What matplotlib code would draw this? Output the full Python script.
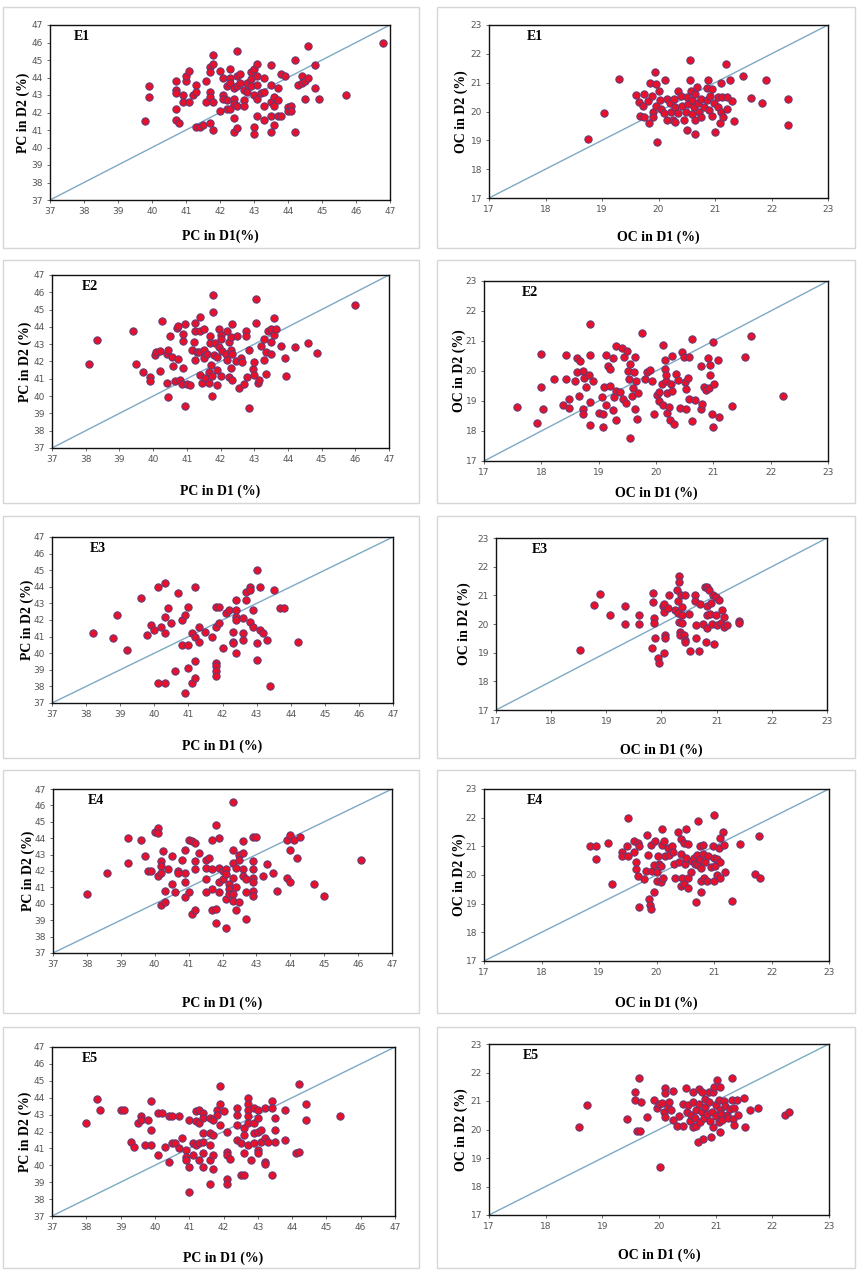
import matplotlib
matplotlib.use("Agg")
import matplotlib.pyplot as plt
from matplotlib.patches import Rectangle
import numpy as np

W, H = 862, 1278

# ---------------- data ----------------
E1_PC = [(39.8,41.5),(39.9,43.5),(39.9,42.9),(40.7,43.8),(40.7,43.3),(40.7,43.1),(40.7,42.2),(40.7,41.6),(40.8,41.4),(40.9,43.0),(40.9,42.6),(41.0,43.8),(41.0,44.1),(41.1,44.4),(41.1,42.6),(41.2,43.0),(41.3,43.6),(41.3,43.2),(41.3,41.2),(41.4,41.2),(41.5,41.3),(41.6,43.8),(41.6,42.6),(41.7,44.6),(41.7,44.3),(41.7,43.2),(41.7,42.9),(41.7,41.4),(41.8,45.3),(41.8,44.8),(41.8,42.6),(41.8,41.0),(42.0,44.4),(42.0,42.1),(42.1,44.0),(42.1,43.0),(42.1,42.8),(42.2,43.5),(42.2,42.7),(42.2,42.2),(42.3,44.5),(42.3,44.0),(42.3,43.7),(42.3,42.2),(42.4,43.4),(42.4,42.8),(42.4,42.5),(42.4,41.7),(42.4,40.9),(42.5,45.5),(42.5,44.1),(42.5,43.5),(42.5,42.4),(42.5,41.1),(42.6,44.2),(42.6,43.7),(42.7,43.3),(42.7,42.7),(42.7,42.4),(42.8,43.7),(42.8,43.2),(42.9,44.3),(42.9,43.9),(42.9,43.5),(43.0,44.5),(43.0,43.0),(43.0,41.2),(43.0,40.8),(43.1,44.8),(43.1,44.1),(43.1,43.6),(43.1,42.8),(43.1,41.8),(43.2,43.1),(43.3,44.0),(43.3,43.2),(43.3,42.4),(43.3,41.6),(43.5,44.7),(43.5,43.6),(43.5,42.6),(43.5,41.8),(43.5,40.9),(43.6,42.9),(43.6,42.4),(43.6,41.3),(43.7,43.4),(43.7,42.7),(43.7,41.8),(43.8,44.2),(43.8,41.8),(43.9,44.1),(44.0,42.3),(44.0,42.1),(44.1,42.4),(44.1,42.1),(44.2,45.0),(44.2,40.9),(44.3,43.6),(44.4,44.1),(44.4,43.7),(44.5,43.8),(44.5,42.8),(44.6,45.8),(44.6,44.0),(44.8,44.7),(44.8,43.4),(44.9,42.8),(45.7,43.0),(46.8,46.0)]

E1_OC = [(18.75,19.05),(19.03,19.95),(19.3,21.13),(19.6,20.57),(19.65,20.33),(19.68,19.83),(19.72,20.2),(19.75,20.6),(19.75,19.82),(19.82,20.35),(19.83,19.6),(19.85,20.98),(19.88,20.55),(19.9,20.0),(19.9,19.8),(19.93,21.38),(19.95,20.95),(19.95,20.2),(19.98,18.95),(20.0,20.7),(20.02,20.4),(20.05,20.1),(20.1,19.95),(20.12,21.1),(20.15,20.45),(20.15,19.7),(20.2,20.3),(20.22,20.0),(20.25,19.72),(20.28,20.45),(20.3,20.15),(20.3,19.65),(20.35,20.7),(20.35,19.95),(20.4,20.55),(20.42,20.2),(20.45,19.7),(20.48,20.0),(20.5,20.5),(20.5,19.35),(20.52,20.25),(20.55,21.8),(20.55,21.1),(20.57,20.7),(20.6,20.4),(20.6,19.9),(20.62,20.15),(20.65,20.6),(20.65,19.7),(20.65,19.22),(20.68,20.85),(20.7,20.3),(20.72,20.0),(20.75,20.45),(20.75,19.8),(20.8,20.15),(20.85,20.8),(20.85,20.4),(20.88,21.1),(20.9,20.05),(20.92,20.55),(20.95,20.78),(20.95,19.85),(20.98,20.3),(21.0,19.3),(21.05,20.5),(21.05,20.15),(21.08,19.6),(21.1,21.0),(21.1,20.0),(21.12,20.5),(21.15,19.8),(21.2,21.65),(21.22,20.5),(21.22,20.1),(21.27,21.1),(21.3,20.38),(21.33,19.68),(21.5,21.22),(21.63,20.48),(21.83,20.3),(21.9,21.1),(22.3,20.43),(22.3,19.52)]

E2_PC = [(38.1,41.85),(38.35,43.25),(39.4,43.75),(39.5,41.85),(39.7,41.4),(39.9,41.1),(39.9,40.85),(40.05,42.4),(40.1,42.55),(40.2,42.6),(40.2,41.45),(40.25,44.35),(40.4,42.45),(40.4,40.75),(40.45,42.65),(40.45,39.95),(40.5,43.45),(40.55,42.25),(40.6,41.75),(40.65,40.85),(40.7,43.95),(40.75,44.05),(40.75,42.15),(40.8,40.95),(40.85,40.7),(40.88,41.6),(40.9,43.2),(40.9,43.6),(40.95,44.15),(40.95,39.45),(41.0,40.7),(41.1,40.65),(41.15,42.65),(41.2,43.1),(41.25,44.25),(41.25,43.75),(41.25,42.1),(41.3,42.55),(41.35,42.55),(41.4,44.55),(41.4,43.75),(41.4,41.2),(41.45,40.75),(41.5,43.9),(41.5,42.65),(41.5,42.2),(41.55,41.05),(41.6,42.45),(41.65,41.4),(41.65,40.75),(41.7,43.45),(41.7,43.05),(41.72,41.8),(41.75,41.15),(41.75,40.0),(41.78,45.85),(41.78,44.85),(41.8,42.35),(41.85,43.05),(41.9,42.25),(41.9,41.5),(41.9,40.65),(41.95,43.9),(41.95,42.85),(42.0,43.55),(42.0,43.3),(42.0,41.15),(42.05,42.6),(42.15,42.45),(42.2,43.75),(42.2,42.1),(42.25,43.1),(42.25,41.1),(42.3,43.4),(42.3,42.65),(42.3,41.65),(42.35,44.15),(42.35,40.95),(42.35,42.45),(42.45,42.05),(42.5,43.45),(42.55,40.45),(42.6,42.2),(42.65,41.95),(42.7,40.7),(42.75,43.75),(42.75,43.5),(42.8,41.1),(42.85,42.65),(42.85,39.3),(42.95,41.55),(43.0,41.95),(43.0,41.2),(43.05,45.6),(43.05,44.2),(43.1,40.75),(43.15,40.95),(43.2,42.9),(43.3,42.1),(43.3,43.3),(43.35,42.55),(43.35,41.3),(43.4,43.75),(43.5,43.85),(43.5,42.45),(43.5,43.15),(43.6,44.5),(43.6,43.55),(43.65,43.9),(43.8,42.9),(43.9,42.2),(43.95,41.15),(44.2,42.85),(44.6,43.05),(44.85,42.5),(46.0,45.25)]

E2_OC = [(17.58,18.8),(17.93,18.25),(18.0,19.45),(18.0,20.55),(18.03,18.72),(18.22,19.72),(18.37,18.85),(18.43,20.52),(18.43,19.72),(18.48,19.08),(18.48,18.78),(18.58,19.65),(18.62,19.95),(18.63,20.42),(18.65,19.17),(18.67,20.32),(18.72,20.0),(18.73,18.72),(18.73,18.58),(18.75,19.75),(18.78,19.45),(18.83,19.88),(18.85,18.98),(18.85,18.2),(18.85,20.52),(18.85,21.57),(18.9,19.68),(19.0,18.6),(19.05,19.12),(19.08,18.58),(19.08,18.15),(19.1,19.47),(19.12,18.88),(19.13,20.53),(19.17,20.15),(19.2,19.5),(19.2,20.05),(19.25,20.42),(19.25,18.7),(19.27,19.12),(19.3,20.82),(19.3,19.32),(19.3,18.38),(19.37,19.3),(19.4,20.75),(19.42,19.05),(19.45,20.48),(19.47,18.92),(19.5,20.65),(19.52,20.0),(19.53,19.72),(19.55,20.22),(19.55,17.75),(19.58,19.15),(19.6,19.42),(19.62,19.98),(19.63,20.45),(19.63,18.72),(19.65,19.65),(19.67,18.4),(19.68,19.25),(19.75,21.25),(19.8,19.72),(19.85,19.95),(19.9,20.03),(19.93,19.65),(19.97,18.58),(20.02,19.2),(20.05,19.3),(20.05,19.0),(20.1,19.58),(20.12,18.88),(20.13,20.85),(20.15,20.38),(20.15,20.05),(20.17,19.65),(20.18,19.88),(20.2,19.28),(20.2,18.6),(20.22,18.8),(20.25,18.38),(20.27,19.58),(20.28,19.32),(20.28,20.5),(20.32,18.22),(20.35,19.9),(20.38,19.7),(20.42,18.78),(20.45,20.62),(20.48,20.47),(20.5,19.62),(20.52,19.4),(20.52,18.72),(20.55,19.75),(20.58,20.48),(20.58,19.05),(20.63,21.08),(20.63,18.32),(20.68,19.03),(20.78,20.15),(20.78,18.72),(20.8,18.9),(20.83,19.45),(20.88,19.35),(20.9,20.42),(20.93,19.42),(20.95,20.2),(20.95,19.88),(20.97,18.57),(21.0,20.97),(21.0,18.15),(21.02,19.55),(21.08,20.35),(21.1,18.45),(21.32,18.82),(21.55,20.47),(21.65,21.15),(22.22,19.15)]

E3_PC = [(38.2,41.2),(38.8,40.9),(38.9,42.3),(39.2,40.2),(39.6,43.3),(39.8,41.1),(39.9,41.7),(40.0,41.4),(40.1,44.0),(40.1,38.2),(40.2,41.6),(40.3,44.2),(40.3,42.2),(40.3,41.2),(40.3,38.2),(40.4,42.7),(40.5,41.8),(40.6,38.9),(40.7,43.6),(40.8,42.0),(40.8,40.5),(40.9,42.3),(40.9,37.6),(41.0,42.8),(41.0,40.5),(41.0,39.1),(41.1,41.2),(41.1,38.2),(41.2,44.0),(41.2,41.0),(41.2,39.5),(41.2,38.5),(41.3,41.6),(41.3,40.7),(41.5,41.3),(41.7,41.0),(41.8,42.8),(41.8,41.6),(41.8,39.4),(41.8,39.2),(41.8,38.9),(41.8,38.6),(41.9,42.8),(41.9,41.8),(42.0,40.3),(42.1,42.4),(42.2,42.6),(42.3,41.3),(42.3,40.7),(42.3,40.6),(42.4,43.2),(42.4,42.6),(42.4,42.2),(42.4,42.0),(42.4,40.0),(42.6,42.1),(42.6,41.2),(42.6,40.8),(42.7,43.7),(42.7,43.2),(42.8,44.0),(42.8,43.8),(42.8,41.9),(42.9,42.6),(42.9,41.6),(43.0,45.0),(43.0,40.6),(43.0,39.6),(43.1,44.0),(43.1,41.4),(43.2,41.2),(43.3,40.8),(43.4,38.0),(43.5,43.8),(43.7,42.7),(43.8,42.7),(44.2,40.7)]

E3_OC = [(18.52,19.08),(18.77,20.67),(18.88,21.03),(19.07,20.32),(19.33,20.62),(19.33,20.0),(19.6,20.3),(19.6,20.0),(19.82,19.15),(19.85,21.08),(19.85,20.78),(19.87,20.2),(19.87,20.05),(19.88,19.5),(19.93,18.83),(19.95,18.65),(20.02,20.62),(20.05,20.7),(20.05,20.42),(20.05,19.0),(20.07,19.62),(20.07,19.5),(20.12,20.55),(20.13,21.0),(20.25,20.5),(20.28,21.2),(20.3,20.8),(20.3,20.4),(20.32,21.68),(20.32,21.45),(20.32,20.07),(20.33,19.72),(20.33,19.6),(20.35,21.0),(20.37,20.6),(20.37,20.3),(20.38,20.02),(20.4,19.62),(20.42,19.45),(20.42,19.38),(20.43,21.0),(20.5,20.35),(20.52,19.05),(20.6,21.0),(20.6,20.8),(20.62,19.95),(20.63,19.5),(20.68,19.07),(20.7,20.7),(20.75,20.0),(20.78,21.3),(20.8,19.38),(20.82,21.3),(20.82,19.85),(20.83,20.62),(20.83,20.3),(20.87,21.18),(20.88,20.35),(20.9,20.75),(20.92,20.0),(20.93,21.02),(20.95,19.3),(20.98,20.95),(20.98,20.32),(21.0,19.95),(21.05,20.83),(21.07,20.05),(21.1,20.48),(21.13,20.25),(21.13,19.9),(21.18,19.95),(21.4,20.12),(21.4,20.05)]

E4_PC = [(38.0,40.6),(38.6,41.9),(39.2,44.0),(39.2,42.5),(39.6,43.9),(39.7,42.9),(39.8,42.0),(39.9,42.0),(40.0,44.4),(40.1,44.6),(40.1,44.3),(40.1,41.7),(40.2,42.6),(40.2,42.3),(40.2,41.9),(40.2,39.9),(40.25,43.2),(40.3,40.8),(40.3,40.1),(40.4,42.1),(40.5,42.9),(40.5,41.2),(40.6,40.7),(40.7,42.0),(40.7,41.9),(40.8,42.7),(40.9,43.3),(40.9,41.9),(40.9,41.3),(40.9,40.4),(41.0,43.9),(41.0,40.7),(41.1,43.8),(41.1,39.4),(41.2,43.7),(41.2,42.6),(41.2,42.1),(41.2,39.6),(41.3,43.1),(41.5,42.7),(41.5,42.2),(41.5,41.5),(41.5,40.7),(41.6,42.8),(41.7,43.9),(41.7,42.1),(41.7,40.9),(41.7,39.6),(41.8,44.8),(41.8,39.7),(41.8,38.8),(41.9,44.0),(41.9,42.2),(41.9,41.3),(41.9,40.7),(42.0,42.0),(42.0,41.5),(42.1,42.1),(42.1,41.8),(42.1,40.3),(42.1,38.5),(42.2,41.2),(42.2,40.9),(42.2,40.6),(42.3,46.2),(42.3,43.3),(42.3,42.5),(42.3,41.6),(42.3,40.6),(42.3,40.2),(42.4,42.2),(42.4,41.0),(42.4,39.6),(42.5,43.0),(42.5,42.7),(42.5,40.1),(42.6,43.8),(42.6,43.1),(42.6,42.1),(42.6,41.7),(42.7,41.5),(42.7,40.7),(42.7,39.1),(42.9,44.1),(42.9,42.6),(42.9,42.1),(42.9,41.6),(42.9,41.3),(42.9,40.8),(42.9,40.5),(43.0,44.1),(43.2,41.7),(43.3,42.4),(43.5,41.9),(43.6,40.8),(43.9,43.9),(43.9,41.6),(44.0,44.2),(44.0,43.3),(44.0,41.3),(44.1,43.9),(44.2,42.8),(44.3,44.1),(44.7,41.2),(45.0,40.5),(46.1,42.7)]

E4_OC = [(18.85,21.0),(18.95,21.0),(18.95,20.55),(19.15,21.1),(19.22,19.7),(19.4,20.8),(19.4,20.65),(19.48,21.02),(19.5,22.0),(19.5,20.65),(19.6,20.8),(19.6,21.2),(19.65,20.45),(19.65,20.2),(19.67,19.98),(19.68,21.1),(19.7,21.02),(19.7,18.88),(19.78,19.85),(19.82,20.15),(19.83,21.4),(19.85,20.7),(19.87,19.15),(19.88,18.95),(19.9,21.05),(19.9,18.8),(19.92,20.15),(19.95,20.35),(19.95,19.42),(19.97,21.18),(20.0,19.8),(20.0,20.1),(20.02,20.65),(20.05,20.4),(20.08,20.3),(20.08,19.75),(20.1,21.6),(20.1,21.05),(20.12,19.9),(20.13,21.18),(20.15,20.65),(20.2,20.95),(20.22,20.7),(20.27,21.0),(20.28,20.8),(20.3,20.4),(20.32,19.88),(20.38,21.5),(20.4,20.45),(20.42,19.6),(20.43,21.25),(20.43,20.72),(20.45,19.9),(20.47,21.1),(20.48,19.68),(20.5,20.4),(20.52,21.6),(20.52,20.6),(20.55,21.08),(20.55,19.55),(20.55,19.9),(20.6,20.1),(20.62,20.5),(20.65,20.6),(20.67,20.4),(20.68,19.05),(20.7,20.7),(20.72,20.35),(20.73,21.9),(20.75,21.0),(20.75,20.55),(20.77,19.42),(20.78,20.25),(20.78,19.78),(20.8,21.05),(20.8,20.75),(20.82,19.88),(20.85,20.45),(20.88,19.78),(20.9,20.65),(20.95,20.28),(20.98,21.0),(21.0,22.1),(21.0,20.6),(21.0,19.78),(21.02,20.3),(21.05,20.55),(21.05,20.0),(21.08,20.95),(21.1,20.45),(21.1,21.3),(21.1,19.9),(21.15,21.5),(21.18,21.05),(21.2,20.12),(21.32,19.1),(21.45,21.08),(21.72,20.05),(21.78,21.35),(21.8,19.88)]

E5_PC = [(38.0,42.5),(38.3,43.9),(38.4,43.3),(39.0,43.3),(39.1,43.3),(39.3,41.4),(39.4,41.1),(39.5,42.5),(39.6,42.9),(39.6,42.7),(39.7,41.2),(39.8,42.7),(39.9,43.8),(39.9,42.1),(39.9,41.2),(40.1,43.1),(40.1,40.6),(40.2,43.1),(40.3,41.1),(40.4,42.9),(40.4,40.2),(40.5,42.9),(40.5,41.3),(40.6,41.3),(40.7,42.9),(40.7,41.0),(40.8,41.6),(40.9,40.9),(40.9,40.5),(40.9,40.3),(41.0,42.7),(41.0,39.9),(41.0,38.4),(41.1,41.3),(41.1,40.6),(41.2,43.2),(41.2,42.6),(41.2,41.2),(41.3,43.3),(41.3,42.5),(41.3,41.3),(41.3,40.3),(41.4,43.1),(41.4,42.8),(41.4,41.9),(41.4,41.4),(41.4,40.7),(41.4,39.9),(41.6,42.8),(41.6,41.9),(41.6,41.2),(41.6,40.3),(41.6,38.9),(41.7,42.7),(41.7,41.8),(41.7,40.6),(41.7,39.8),(41.8,43.3),(41.8,43.0),(41.9,44.7),(41.9,43.6),(41.9,42.4),(42.0,43.2),(42.1,42.0),(42.1,40.8),(42.1,40.6),(42.1,39.2),(42.1,38.9),(42.2,40.4),(42.4,43.4),(42.4,43.0),(42.4,42.4),(42.4,41.5),(42.5,41.3),(42.5,39.4),(42.6,42.2),(42.6,41.8),(42.6,40.7),(42.6,39.4),(42.7,44.0),(42.7,43.6),(42.7,43.3),(42.7,42.9),(42.7,42.5),(42.7,41.2),(42.8,40.3),(42.9,43.4),(42.9,42.5),(42.9,41.9),(42.9,41.3),(43.0,43.3),(43.0,42.8),(43.0,42.0),(43.0,40.9),(43.0,40.7),(43.1,42.1),(43.1,41.4),(43.2,43.4),(43.2,41.6),(43.2,40.2),(43.2,40.1),(43.3,41.4),(43.4,43.8),(43.4,43.4),(43.4,39.4),(43.5,42.8),(43.5,42.1),(43.5,41.4),(43.8,43.3),(43.8,41.5),(44.1,40.7),(44.2,44.8),(44.2,40.8),(44.4,43.6),(44.4,42.7),(45.4,42.9)]

E5_OC = [(18.58,20.08),(18.73,20.85),(19.43,20.38),(19.57,21.32),(19.57,21.05),(19.62,19.93),(19.65,21.8),(19.67,19.93),(19.68,20.95),(19.78,20.45),(19.92,21.02),(19.97,20.75),(20.0,20.88),(20.02,18.7),(20.05,20.92),(20.08,20.6),(20.1,20.45),(20.1,21.45),(20.1,21.27),(20.15,20.78),(20.18,20.97),(20.22,20.68),(20.25,20.35),(20.25,21.35),(20.32,20.12),(20.35,20.48),(20.42,20.12),(20.42,20.88),(20.48,21.47),(20.5,20.6),(20.52,20.85),(20.55,20.3),(20.57,20.52),(20.6,21.3),(20.6,20.95),(20.6,20.1),(20.63,20.42),(20.65,20.68),(20.65,20.12),(20.68,19.55),(20.7,20.9),(20.7,21.42),(20.72,20.25),(20.75,21.32),(20.75,20.6),(20.77,19.68),(20.8,20.42),(20.82,21.08),(20.82,20.78),(20.85,20.55),(20.88,21.3),(20.88,20.98),(20.9,20.3),(20.92,19.75),(20.93,20.62),(20.95,21.32),(20.95,20.08),(20.97,21.48),(21.0,20.85),(21.0,20.48),(21.02,21.75),(21.05,21.05),(21.05,20.25),(21.07,21.48),(21.08,20.7),(21.08,19.92),(21.1,20.55),(21.12,20.35),(21.15,21.0),(21.17,20.82),(21.2,20.5),(21.22,20.42),(21.25,20.72),(21.28,21.82),(21.28,21.05),(21.3,20.38),(21.32,20.75),(21.33,20.15),(21.38,21.02),(21.4,20.52),(21.5,21.1),(21.52,20.1),(21.6,20.7),(21.75,20.75),(22.22,20.5),(22.3,20.6)]

panel_names = ["E1", "E2", "E3", "E4", "E5"]
pc_data = [E1_PC, E2_PC, E3_PC, E4_PC, E5_PC]
oc_data = [E1_OC, E2_OC, E3_OC, E4_OC, E5_OC]
pc_xlabels = ["PC in D1(%)", "PC in D1 (%)", "PC in D1 (%)", "PC in D1 (%)", "PC in D1 (%)"]
oc_xlabels = ["OC in D1 (%)"] * 5
pc_ylabel = "PC in D2 (%)"
oc_ylabel = "OC in D2 (%)"
pc_ticks = list(range(37, 48))
oc_ticks = list(range(17, 24))

# ---------------- layout (pixels) ----------------
axes_px = [
    ([50, 25, 390, 200], [489, 25, 828, 198]),
    ([52, 275, 389, 448], [484, 281, 828, 461]),
    ([52, 537, 393, 703], [496, 538, 827, 710]),
    ([53, 789, 392, 953], [484, 789, 829, 961]),
    ([52, 1047, 395, 1216], [489, 1044, 829, 1215]),
]
xpads = [(10, 12), (15, 7), (15, 13), (20, 14), (14, 13)]
ypads = [(1, 2), (1, 0), (0, 5), (0, 0), (1, 2)]
name_dx = [(24, 38), (30, 38), (38, 36), (35, 43), (30, 34)]
frame_rows = [(7, 248), (260, 503), (516, 758), (770, 1013), (1027, 1268)]
frame_cols = [(3, 419), (437, 855)]

fig = plt.figure(figsize=(W / 100, H / 100), dpi=100)
fig.patch.set_facecolor("white")

for (y0, y1) in frame_rows:
    for (x0, x1) in frame_cols:
        fig.patches.append(Rectangle((x0 / W, 1 - y1 / H), (x1 - x0) / W, (y1 - y0) / H,
                                     transform=fig.transFigure, fill=False,
                                     edgecolor="#d6d6d6", linewidth=1.0))

serif = ["Liberation Serif", "DejaVu Serif"]


def draw(ax, pts, ticks, name, xlabel, ylabel, xpad, ypad, ndx):
    lo, hi = ticks[0], ticks[-1]
    ax.plot([lo, hi], [lo, hi], color="#7ea8c4", linewidth=1.0, zorder=1)
    xs = [p[0] for p in pts]
    ys = [p[1] for p in pts]
    ax.scatter(xs, ys, s=28, c="#e8102a", edgecolors="#5b3b78", linewidths=0.7, zorder=3)
    ax.set_xlim(lo, hi)
    ax.set_ylim(lo, hi)
    ax.set_xticks(ticks)
    ax.set_yticks(ticks)
    ax.tick_params(axis="both", labelsize=6.5, labelcolor="#555555", length=2, width=0.6,
                   color="#555555", pad=3)
    for sp in ax.spines.values():
        sp.set_color("#111111")
        sp.set_linewidth(1.0)
    ax.set_xlabel(xlabel, fontsize=10, fontweight="bold", family=serif, labelpad=xpad)
    ax.set_ylabel(ylabel, fontsize=10, fontweight="bold", family=serif, labelpad=ypad)
    ax.annotate(name, xy=(0, 1), xycoords="axes fraction", xytext=(ndx, -5),
                textcoords="offset pixels", ha="left", va="top",
                fontsize=10, fontweight="bold", family=serif)


for i in range(5):
    for j in range(2):
        l, t, r, b = axes_px[i][j]
        ax = fig.add_axes([l / W, 1 - b / H, (r - l) / W, (b - t) / H])
        if j == 0:
            draw(ax, pc_data[i], pc_ticks, panel_names[i], pc_xlabels[i], pc_ylabel,
                 xpads[i][0], ypads[i][0], name_dx[i][0])
        else:
            draw(ax, oc_data[i], oc_ticks, panel_names[i], oc_xlabels[i], oc_ylabel,
                 xpads[i][1], ypads[i][1], name_dx[i][1])

fig.savefig("out.png", dpi=100)
